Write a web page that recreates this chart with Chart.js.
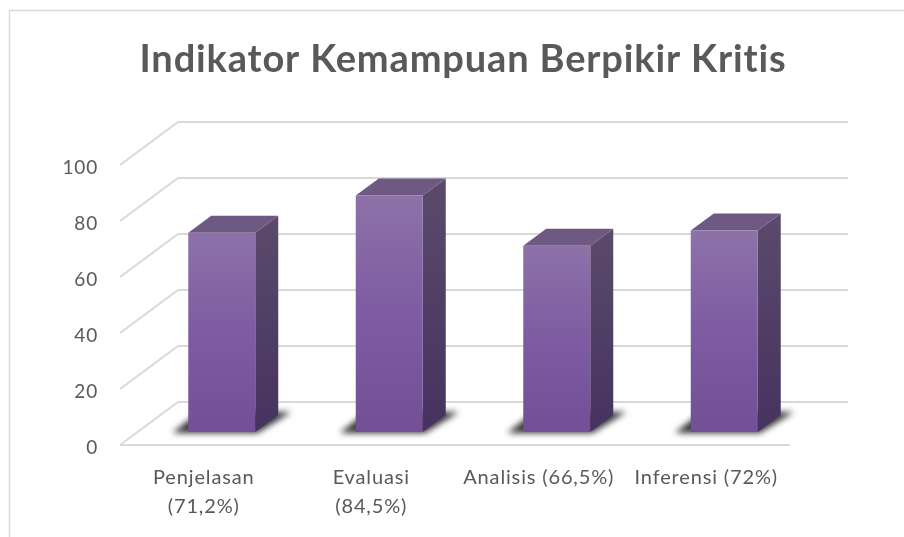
<!DOCTYPE html>
<html>
<head>
<meta charset="utf-8">
<style>
  html, body { margin: 0; padding: 0; background: #fff; }
  canvas { display: block; }
</style>
<script src="https://cdn.jsdelivr.net/npm/chart.js@4/dist/chart.umd.js"></script>
</head>
<body>
<canvas id="chart" width="904" height="537"></canvas>
<script>
const titleText = 'Indikator Kemampuan Berpikir Kritis';
const categories = [['Penjelasan', '(71,2%)'], ['Evaluasi', '(84,5%)'], 'Analisis (66,5%)', 'Inferensi (72%)'];
const scoreValues = [71.2, 84.5, 66.5, 72];
const tickValues = [0, 20, 40, 60, 80, 100];

const textColor = '#595959';
const gridColor = '#d9d9d9';

// depth of the fake 3D box
const wallDx = 58, wallDy = -43;
const barShiftX = 18, barShiftY = -13;
const barDx = 23, barDy = -17;

function poly(ctx, pts, fill) {
    ctx.beginPath();
    pts.forEach((p, i) => i ? ctx.lineTo(p[0], p[1]) : ctx.moveTo(p[0], p[1]));
    ctx.closePath();
    ctx.fillStyle = fill;
    ctx.fill();
}

const framePlugin = {
    id: 'frame',
    afterLayout(chart) {
        // title is centred on the whole frame, not on the plot
        chart.titleBlock.left = 0;
        chart.titleBlock.right = 926;
    },
    beforeDraw(chart) {
        const ctx = chart.ctx;
        // spacing widens Lato to the reference's text widths and also turns off its "ti" ligature
        ctx.letterSpacing = '0.85px';
        ctx.save();
        ctx.strokeStyle = gridColor;
        ctx.lineWidth = 1.5;
        ctx.beginPath();
        ctx.moveTo(904, 10.5);
        ctx.lineTo(9.5, 10.5);
        ctx.lineTo(9.5, 537);
        ctx.stroke();
        ctx.restore();
    },
};

const box3dPlugin = {
    id: 'box3d',
    beforeDatasetsDraw(chart) {
        const ctx = chart.ctx;
        const { left, right } = chart.chartArea;
        const y = chart.scales.y;
        const meta = chart.getDatasetMeta(0);

        // walls and floor
        ctx.save();
        ctx.strokeStyle = gridColor;
        ctx.lineWidth = 2;
        tickValues.forEach((v) => {
            const py = y.getPixelForValue(v);
            ctx.beginPath();
            ctx.moveTo(left, py);
            ctx.lineTo(left + wallDx, py + wallDy);
            ctx.lineTo(right + wallDx, py + wallDy);
            ctx.stroke();
        });
        const floorY = y.getPixelForValue(0);
        ctx.beginPath();
        ctx.moveTo(left, floorY);
        ctx.lineTo(right, floorY);
        ctx.stroke();
        ctx.restore();

        // shadows on the floor
        meta.data.forEach((bar) => {
            const x0 = bar.x - bar.width / 2 + barShiftX;
            const x1 = x0 + bar.width;
            const by = bar.base + barShiftY;
            ctx.save();
            ctx.filter = 'blur(3px)';
            poly(ctx, [
                [x0 - 16, by + 1],
                [x1 + 2, by + 1],
                [x1 + barDx + 13, by + barDy - 3],
                [x0 + barDx - 12, by + barDy - 3],
            ], '#333333');
            ctx.restore();
        });

        // top and side faces
        meta.data.forEach((bar) => {
            const x0 = bar.x - bar.width / 2 + barShiftX;
            const x1 = x0 + bar.width;
            const top = bar.y + barShiftY;
            const by = bar.base + barShiftY;
            const side = ctx.createLinearGradient(0, top + barDy, 0, by);
            side.addColorStop(0, '#5c4a6c');
            side.addColorStop(1, '#46325f');
            poly(ctx, [[x1, top], [x1 + barDx, top + barDy], [x1 + barDx, by + barDy], [x1, by]], side);
            poly(ctx, [[x0, top], [x0 + barDx, top + barDy], [x1 + barDx, top + barDy], [x1, top]], '#6d5981');
        });

        // real bars get drawn on the front plane
        ctx.save();
        ctx.translate(barShiftX, barShiftY);
    },
    afterDatasetsDraw(chart) {
        chart.ctx.restore();
    },
};

new Chart(document.getElementById('chart').getContext('2d'), {
    type: 'bar',
    data: {
        labels: categories,
        datasets: [
            {
                label: 'Indikator',
                data: scoreValues,
                categoryPercentage: 1,
                barPercentage: 0.4,
                backgroundColor: (c) => {
                    const y = c.chart.scales.y;
                    const y0 = y ? y.getPixelForValue(c.raw) : NaN;
                    const y1 = y ? y.getPixelForValue(0) : NaN;
                    // scales have no size yet on the first pass
                    if (!Number.isFinite(y0) || !Number.isFinite(y1)) return '#7d5aa0';
                    const g = c.chart.ctx.createLinearGradient(0, y0, 0, y1);
                    g.addColorStop(0, '#8d72a8');
                    g.addColorStop(0.5, '#7e5ba2');
                    g.addColorStop(1, '#734f95');
                    return g;
                },
            },
        ],
    },
    options: {
        responsive: false,
        animation: false,
        layout: { padding: { top: 0, right: 114, bottom: 0, left: 0 } },
        plugins: {
            legend: { display: false },
            tooltip: { enabled: false },
            title: {
                display: true,
                text: titleText,
                color: textColor,
                font: { family: 'Lato', size: 38, weight: 'bold', lineHeight: 1.2 },
                padding: { top: 37, bottom: 82.4 },
            },
        },
        scales: {
            x: {
                grid: { display: false, drawTicks: false },
                border: { display: false },
                ticks: {
                    color: textColor,
                    font: { family: 'Lato', size: 20, lineHeight: 1.45 },
                    padding: 18,
                    autoSkip: false,
                    maxRotation: 0,
                },
                afterFit: (scale) => { scale.height = 92; },
            },
            y: {
                min: 0,
                max: 100,
                afterBuildTicks: (scale) => { scale.ticks = tickValues.map((value) => ({ value })); },
                grid: { display: false, drawTicks: false },
                border: { display: false },
                ticks: {
                    color: textColor,
                    font: { family: 'Lato', size: 19 },
                    padding: 22,
                    labelOffset: 3,
                },
                afterFit: (scale) => { scale.width = 120; },
            },
        },
    },
    plugins: [framePlugin, box3dPlugin],
});
</script>
</body>
</html>
